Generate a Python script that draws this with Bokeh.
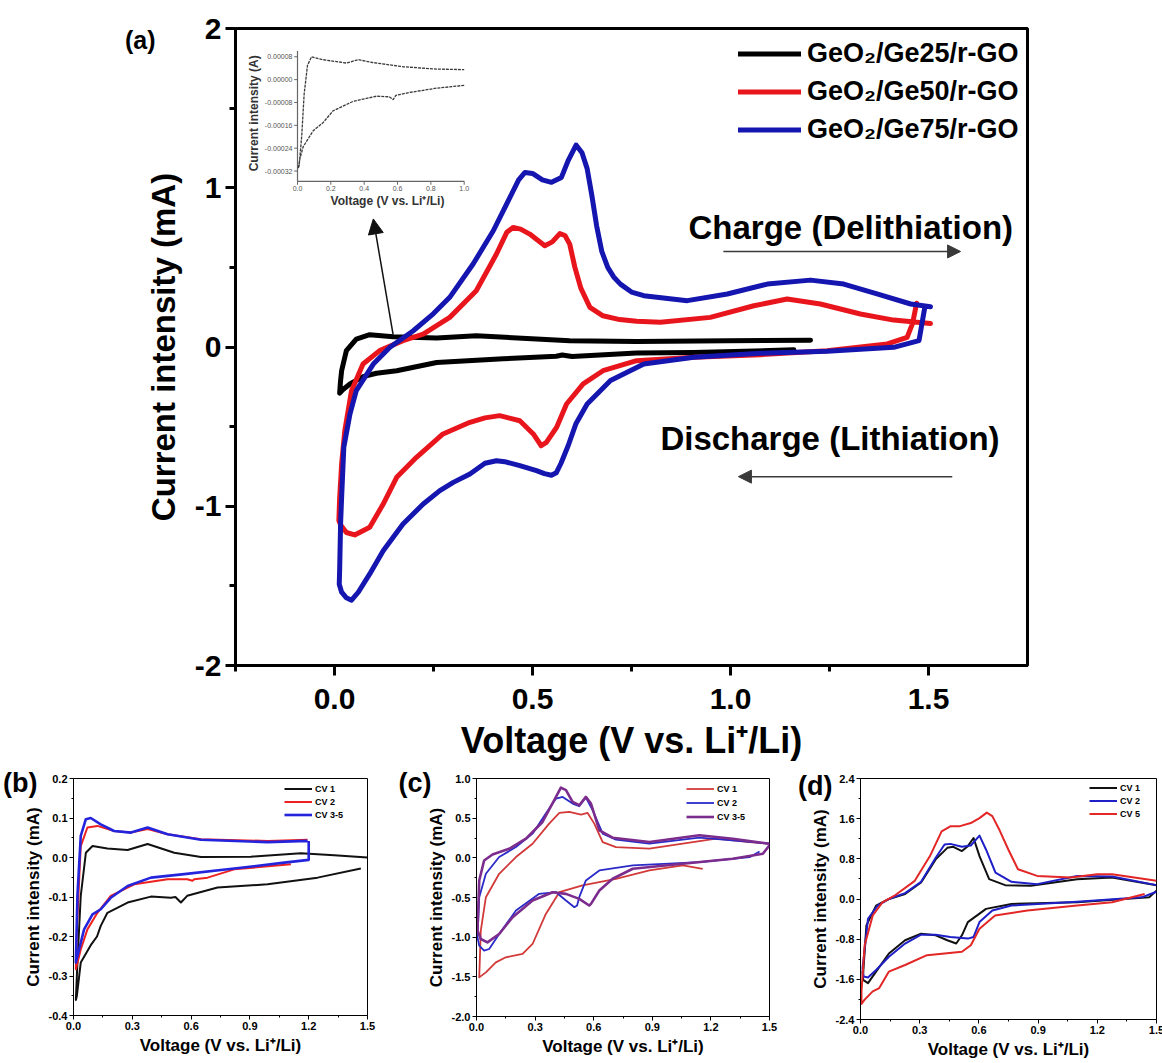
import numpy as np
from bokeh.plotting import figure
from bokeh.models import (Range1d, FixedTicker, PrintfTickFormatter, Legend, LegendItem,
                          Label, Arrow, NormalHead, LinearAxis)
from bokeh.layouts import column, row
from bokeh.embed import file_html
from bokeh.resources import INLINE
from bokeh.core.properties import value

FONT = "Liberation Sans"

# ------------------------------------------------------------------ data (a)
A_XTICKS = [0.0, 0.5, 1.0, 1.5]
A_XMINOR = [-0.25, 0.25, 0.75, 1.25]
A_YTICKS = [-2, -1, 0, 1, 2]
A_YMINOR = [-1.5, -0.5, 0.5, 1.5]
A_LABELS = ["GeO\u2082/Ge25/r-GO", "GeO\u2082/Ge50/r-GO", "GeO\u2082/Ge75/r-GO"]

ge25_lower = [(1.160, -0.018), (0.907, -0.034), (0.763, -0.038), (0.600, -0.060), (0.575, -0.050),
              (0.560, -0.058), (0.426, -0.074), (0.258, -0.097), (0.157, -0.149), (0.106, -0.165),
              (0.072, -0.186), (0.039, -0.232), (0.020, -0.270), (0.013, -0.290)]
ge25_upper = [(0.015, -0.220), (0.018, -0.149), (0.030, -0.023), (0.055, 0.050), (0.089, 0.077),
              (0.148, 0.065), (0.258, 0.056), (0.358, 0.071), (0.510, 0.050), (0.594, 0.040),
              (0.763, 0.035), (0.992, 0.040), (1.202, 0.042)]

ge50_lower = [(1.470, 0.275), (1.460, 0.150), (1.446, 0.061), (1.396, 0.019), (1.244, -0.023),
              (1.076, -0.048), (0.907, -0.065), (0.763, -0.086), (0.678, -0.149), (0.628, -0.232),
              (0.586, -0.358), (0.561, -0.504), (0.535, -0.599), (0.522, -0.620), (0.502, -0.546),
              (0.468, -0.463), (0.417, -0.431), (0.380, -0.445), (0.342, -0.473), (0.274, -0.546),
              (0.207, -0.693), (0.157, -0.818), (0.123, -0.986), (0.089, -1.132), (0.051, -1.180),
              (0.030, -1.165), (0.016, -1.120), (0.011, -1.090)]
ge50_upper = [(0.013, -0.950), (0.018, -0.735), (0.026, -0.526), (0.043, -0.274), (0.072, -0.107),
              (0.114, -0.023), (0.173, 0.040), (0.224, 0.081), (0.291, 0.186), (0.358, 0.353),
              (0.409, 0.584), (0.435, 0.720), (0.451, 0.751), (0.470, 0.740), (0.493, 0.709),
              (0.531, 0.636), (0.550, 0.660), (0.569, 0.712), (0.582, 0.700), (0.594, 0.646),
              (0.607, 0.500), (0.622, 0.370), (0.645, 0.249), (0.678, 0.196), (0.720, 0.172),
              (0.763, 0.161), (0.823, 0.155), (0.949, 0.186), (1.059, 0.259), (1.143, 0.301),
              (1.227, 0.270), (1.328, 0.207), (1.412, 0.169), (1.505, 0.148)]

ge75_lower = [(1.490, 0.240), (1.476, 0.040), (1.412, -0.002), (1.244, -0.027), (1.076, -0.040),
              (0.907, -0.065), (0.781, -0.107), (0.697, -0.211), (0.638, -0.358), (0.610, -0.480),
              (0.590, -0.620), (0.572, -0.730), (0.560, -0.790), (0.548, -0.805), (0.530, -0.795),
              (0.510, -0.776), (0.468, -0.745), (0.430, -0.720), (0.409, -0.714), (0.380, -0.730),
              (0.342, -0.797), (0.300, -0.850), (0.266, -0.902), (0.224, -0.986), (0.173, -1.111),
              (0.123, -1.279), (0.089, -1.425), (0.060, -1.540), (0.043, -1.590), (0.030, -1.575),
              (0.018, -1.540), (0.012, -1.490)]
ge75_upper = [(0.013, -1.400), (0.0155, -1.100), (0.018, -0.944), (0.0235, -0.630), (0.039, -0.421),
              (0.055, -0.274), (0.098, -0.107), (0.140, -0.002), (0.199, 0.102), (0.250, 0.210),
              (0.291, 0.312), (0.350, 0.521), (0.401, 0.730), (0.443, 0.939), (0.465, 1.050),
              (0.481, 1.096), (0.500, 1.090), (0.525, 1.050), (0.548, 1.034), (0.573, 1.065),
              (0.590, 1.170), (0.610, 1.268), (0.625, 1.220), (0.638, 1.120), (0.650, 0.950),
              (0.662, 0.760), (0.675, 0.600), (0.690, 0.500), (0.705, 0.440), (0.722, 0.395),
              (0.750, 0.345), (0.781, 0.322), (0.891, 0.291), (0.992, 0.333), (1.093, 0.395),
              (1.202, 0.420), (1.286, 0.395), (1.370, 0.333), (1.455, 0.270), (1.505, 0.253)]

# inset of (a): Ge25 in A
INSET_XTICKS = [0.0, 0.2, 0.4, 0.6, 0.8, 1.0]
INSET_XLABELS = ["0.0", "0.2", "0.4", "0.6", "0.8", "1.0"]
INSET_YTICKS = [-0.00032, -0.00024, -0.00016, -0.00008, 0.0, 0.00008]
INSET_YLABELS = ["-0.00032", "-0.00024", "-0.00016", "-0.00008", "0.00000", "0.00008"]
inset_lower = [(1.000, -0.000020), (0.834, -0.000030), (0.672, -0.000045), (0.590, -0.000055),
               (0.574, -0.000070), (0.550, -0.000060), (0.474, -0.000058), (0.334, -0.000076),
               (0.214, -0.000109), (0.154, -0.000150), (0.094, -0.000179), (0.034, -0.000235),
               (0.014, -0.000278), (0.005, -0.000310)]
inset_upper = [(0.010, -0.000300), (0.025, -0.000200), (0.040, -0.000050), (0.060, 0.000050),
               (0.084, 0.000080), (0.150, 0.000070), (0.294, 0.000058), (0.364, 0.000070),
               (0.450, 0.000060), (0.634, 0.000045), (0.834, 0.000037), (1.000, 0.000035)]

# ------------------------------------------------------------------ data (b)
B_XTICKS = [0.0, 0.3, 0.6, 0.9, 1.2, 1.5]
B_XMINOR = [0.15, 0.45, 0.75, 1.05, 1.35]
B_YTICKS = [-0.4, -0.3, -0.2, -0.1, 0.0, 0.1, 0.2]
B_YMINOR = [-0.35, -0.25, -0.15, -0.05, 0.05, 0.15]
B_LABELS = ["CV 1", "CV 2", "CV 3-5"]
b_cv1 = [(1.466, -0.028), (1.245, -0.051), (0.990, -0.068), (0.735, -0.076), (0.580, -0.097),
         (0.548, -0.114), (0.520, -0.100), (0.497, -0.102), (0.395, -0.099), (0.276, -0.114),
         (0.173, -0.140), (0.139, -0.173), (0.120, -0.200), (0.088, -0.222), (0.037, -0.266),
         (0.017, -0.351), (0.012, -0.361),
         (0.020, -0.266), (0.037, -0.097), (0.063, 0.012), (0.097, 0.029), (0.173, 0.023),
         (0.276, 0.019), (0.378, 0.034), (0.514, 0.012), (0.650, 0.001), (0.905, 0.002),
         (1.160, 0.011), (1.330, 0.006), (1.500, 0.000)]
b_cv2 = [(1.109, -0.017), (0.820, -0.030), (0.684, -0.051), (0.616, -0.055), (0.607, -0.059),
         (0.580, -0.055), (0.480, -0.055), (0.310, -0.068), (0.190, -0.097), (0.122, -0.140),
         (0.071, -0.182), (0.037, -0.233), (0.012, -0.283),
         (0.017, -0.182), (0.037, 0.029), (0.071, 0.076), (0.122, 0.080), (0.207, 0.067),
         (0.293, 0.063), (0.378, 0.072), (0.480, 0.059), (0.650, 0.046), (0.990, 0.042),
         (1.194, 0.045)]
b_cv35 = [(1.200, 0.042), (1.200, -0.006), (1.075, -0.013), (0.820, -0.028), (0.565, -0.042),
          (0.395, -0.051), (0.276, -0.072), (0.190, -0.102), (0.139, -0.131), (0.097, -0.144),
          (0.054, -0.182), (0.020, -0.250), (0.012, -0.266),
          (0.020, -0.097), (0.037, 0.055), (0.063, 0.097), (0.088, 0.100), (0.139, 0.084),
          (0.207, 0.067), (0.293, 0.063), (0.378, 0.076), (0.480, 0.059), (0.650, 0.045),
          (0.990, 0.039), (1.194, 0.042)]

# ------------------------------------------------------------------ data (c)
C_YTICKS = [-2.0, -1.5, -1.0, -0.5, 0.0, 0.5, 1.0]
C_YMINOR = [-1.75, -1.25, -0.75, -0.25, 0.25, 0.75]
C_LABELS = ["CV 1", "CV 2", "CV 3-5"]
c_cv1 = [(1.158, -0.138), (1.056, -0.096), (0.885, -0.159), (0.714, -0.264), (0.543, -0.348),
         (0.424, -0.433), (0.355, -0.707), (0.287, -1.086), (0.236, -1.212), (0.150, -1.254),
         (0.099, -1.318), (0.048, -1.444), (0.014, -1.507),
         (0.022, -0.917), (0.048, -0.496), (0.116, -0.201), (0.202, 0.010), (0.287, 0.178),
         (0.372, 0.431), (0.424, 0.566), (0.475, 0.579), (0.535, 0.545), (0.569, 0.566),
         (0.603, 0.431), (0.646, 0.199), (0.714, 0.136), (0.885, 0.115), (1.056, 0.178),
         (1.227, 0.241), (1.398, 0.199), (1.500, 0.178)]
c_cv2 = [(1.449, 0.080), (1.398, 0.008), (1.141, -0.054), (0.800, -0.096), (0.629, -0.159),
         (0.560, -0.285), (0.526, -0.496), (0.515, -0.600), (0.501, -0.622), (0.458, -0.538),
         (0.407, -0.433), (0.321, -0.454), (0.202, -0.665), (0.116, -0.960), (0.065, -1.149),
         (0.039, -1.170), (0.014, -1.107), (0.005, -1.000),
         (0.014, -0.496), (0.048, -0.201), (0.116, 0.010), (0.202, 0.136), (0.287, 0.305),
         (0.355, 0.558), (0.407, 0.747), (0.441, 0.768), (0.492, 0.684), (0.526, 0.650),
         (0.560, 0.760), (0.595, 0.600), (0.646, 0.305), (0.714, 0.229), (0.885, 0.178),
         (1.141, 0.254), (1.312, 0.220), (1.500, 0.178)]
c_cv35 = [(1.500, 0.157), (1.466, 0.051), (1.312, -0.012), (1.056, -0.075), (0.800, -0.138),
          (0.697, -0.264), (0.629, -0.412), (0.586, -0.580), (0.577, -0.601), (0.526, -0.517),
          (0.458, -0.454), (0.390, -0.433), (0.287, -0.538), (0.185, -0.749), (0.116, -0.960),
          (0.056, -1.065), (0.022, -1.023), (0.005, -0.917),
          (0.014, -0.285), (0.039, -0.033), (0.082, 0.042), (0.167, 0.114), (0.253, 0.241),
          (0.338, 0.452), (0.398, 0.726), (0.432, 0.886), (0.458, 0.853), (0.492, 0.705),
          (0.526, 0.663), (0.560, 0.768), (0.586, 0.684), (0.629, 0.347), (0.697, 0.254),
          (0.885, 0.199), (1.141, 0.284), (1.312, 0.241), (1.500, 0.178)]

# ------------------------------------------------------------------ data (d)
D_YTICKS = [-2.4, -1.6, -0.8, 0.0, 0.8, 1.6, 2.4]
D_YMINOR = [-2.0, -1.2, -0.4, 0.4, 1.2, 2.0]
D_LABELS = ["CV 1", "CV 2", "CV 5"]
d_cv1 = [(1.500, 0.165), (1.463, 0.033), (1.098, -0.066), (0.765, -0.099), (0.636, -0.197),
         (0.544, -0.460), (0.514, -0.723), (0.485, -0.887), (0.440, -0.822), (0.381, -0.723),
         (0.307, -0.690), (0.226, -0.822), (0.144, -1.085), (0.079, -1.446), (0.038, -1.676),
         (0.013, -1.610), (0.010, -1.446),
         (0.013, -1.512), (0.030, -0.526), (0.079, -0.131), (0.144, 0.000), (0.226, 0.099),
         (0.307, 0.329), (0.381, 0.789), (0.440, 1.019), (0.470, 1.039), (0.514, 0.954),
         (0.544, 1.052), (0.573, 1.216), (0.603, 0.855), (0.652, 0.395), (0.733, 0.276),
         (0.863, 0.263), (1.098, 0.395), (1.275, 0.428), (1.500, 0.276)]
d_cv2 = [(1.500, 0.145), (1.425, 0.033), (1.098, -0.053), (0.765, -0.131), (0.668, -0.230),
         (0.603, -0.460), (0.573, -0.756), (0.544, -0.789), (0.455, -0.756), (0.381, -0.710),
         (0.307, -0.710), (0.226, -0.887), (0.144, -1.150), (0.079, -1.413), (0.038, -1.564),
         (0.016, -1.545), (0.010, -1.380),
         (0.016, -1.183), (0.038, -0.394), (0.087, -0.131), (0.144, 0.000), (0.226, 0.118),
         (0.307, 0.342), (0.381, 0.822), (0.426, 1.085), (0.455, 1.098), (0.514, 1.039),
         (0.559, 1.065), (0.603, 1.263), (0.636, 0.986), (0.684, 0.526), (0.765, 0.342),
         (0.895, 0.296), (1.098, 0.460), (1.275, 0.447), (1.500, 0.276)]
d_cv5 = [(1.440, 0.099), (1.275, -0.066), (1.098, -0.131), (0.846, -0.230), (0.682, -0.329),
         (0.603, -0.592), (0.559, -0.920), (0.514, -1.052), (0.426, -1.085), (0.337, -1.118),
         (0.226, -1.315), (0.144, -1.446), (0.095, -1.775), (0.062, -1.840), (0.021, -2.005),
         (0.005, -2.090),
         (0.005, -1.840), (0.021, -0.920), (0.062, -0.329), (0.111, -0.066), (0.177, 0.079),
         (0.275, 0.362), (0.352, 0.855), (0.411, 1.348), (0.455, 1.447), (0.500, 1.447),
         (0.559, 1.512), (0.603, 1.611), (0.640, 1.720), (0.668, 1.650), (0.701, 1.400),
         (0.749, 0.986), (0.798, 0.592), (0.895, 0.460), (1.064, 0.428), (1.200, 0.493),
         (1.275, 0.493), (1.500, 0.362)]

XLABEL = "Voltage (V vs. Li\u207a/Li)"
YLABEL = "Current intensity (mA)"
PANEL_LETTERS = ["(a)", "(b)", "(c)", "(d)"]


def xy(*parts):
    pts = [p for part in parts for p in part]
    return [p[0] for p in pts], [p[1] for p in pts]


def make_fig(xr, yr, fw, fh, bl, bt, br, bb):
    f = figure(frame_width=fw, frame_height=fh, min_border_left=bl, min_border_top=bt,
               min_border_right=br, min_border_bottom=bb, x_range=Range1d(*xr),
               y_range=Range1d(*yr), output_backend="svg", toolbar_location=None)
    f.xgrid.visible = False
    f.ygrid.visible = False
    f.background_fill_color = "white"
    f.border_fill_color = "white"
    return f


def style(f, xt, xm, yt, ym, xfmt, yfmt, tick_size, xlab_size, ylab_size, tick_out, minor_out,
          lw, outline_w, xtick_stand, ytick_stand, xlab_stand, ylab_stand):
    for ax in (f.xaxis[0], f.yaxis[0]):
        ax.axis_line_width = lw
        ax.axis_line_color = "black"
        ax.major_tick_line_width = lw
        ax.minor_tick_line_width = lw
        ax.major_tick_line_color = "black"
        ax.minor_tick_line_color = "black"
        ax.major_tick_out = tick_out
        ax.major_tick_in = 0
        ax.minor_tick_out = minor_out
        ax.minor_tick_in = 0
        ax.major_label_text_font = FONT
        ax.major_label_text_font_style = "bold"
        ax.major_label_text_font_size = tick_size
        ax.major_label_text_color = "black"
        ax.axis_label_text_font = FONT
        ax.axis_label_text_font_style = "bold"
        ax.axis_label_text_color = "black"
    f.xaxis[0].major_label_standoff = xtick_stand
    f.yaxis[0].major_label_standoff = ytick_stand
    f.xaxis[0].axis_label_text_font_size = xlab_size
    f.yaxis[0].axis_label_text_font_size = ylab_size
    f.xaxis[0].axis_label_standoff = xlab_stand
    f.yaxis[0].axis_label_standoff = ylab_stand
    f.xaxis.ticker = FixedTicker(ticks=xt, minor_ticks=xm)
    f.yaxis.ticker = FixedTicker(ticks=yt, minor_ticks=ym)
    f.xaxis.formatter = PrintfTickFormatter(format=xfmt)
    f.yaxis.formatter = PrintfTickFormatter(format=yfmt)
    f.xaxis.axis_label = XLABEL
    f.yaxis.axis_label = YLABEL
    f.outline_line_color = "black"
    f.outline_line_width = outline_w
    f.outline_line_alpha = 1.0


def letter_axis(f, text, yval, size, standoff):
    # panel letter drawn as the single tick label of an outer, line-less left axis
    ax = LinearAxis(ticker=FixedTicker(ticks=[yval], minor_ticks=[]),
                    formatter=PrintfTickFormatter(format=text),
                    axis_line_color=None, major_tick_line_color=None,
                    minor_tick_line_color=None, major_tick_out=0, major_tick_in=0,
                    minor_tick_out=0, minor_tick_in=0, major_label_standoff=standoff,
                    major_label_text_font=FONT, major_label_text_font_style="bold",
                    major_label_text_font_size=size, major_label_text_color="black")
    f.add_layout(ax, "left")


def small_legend(f, renderers, labels, loc, spacing):
    leg = Legend(items=[LegendItem(label=l, renderers=[r]) for l, r in zip(labels, renderers)],
                 location=loc, glyph_width=28, glyph_height=13, label_height=13,
                 label_standoff=3, spacing=spacing, padding=1, margin=0,
                 border_line_color=None, background_fill_alpha=0,
                 label_text_font=FONT, label_text_font_style="bold",
                 label_text_font_size="9px", label_text_color="black")
    f.add_layout(leg)


# ------------------------------------------------------------------ panel (a)
pa = make_fig((-0.25, 1.75), (-2, 2), 792, 637, 235, 28, 30, 100)
style(pa, A_XTICKS, A_XMINOR, A_YTICKS, A_YMINOR, "%.1f", "%d", "30px", "36px", "33px",
      10, 6, 3, 3, 13, 4, 8, 10)
pa.extra_x_ranges = {"inx": Range1d(-0.3719, 4.379)}
pa.extra_y_ranges = {"iny": Range1d(-0.002051, 0.000179)}

main_colors = ["#000000", "#e8161c", "#1515b0"]
rends = []
for (lo, up), col in zip([(ge25_lower, ge25_upper), (ge50_lower, ge50_upper),
                          (ge75_lower, ge75_upper)], main_colors):
    vx, vy = xy(lo, up)
    rends.append(pa.line(vx, vy, line_color=col, line_width=5, line_join="round",
                         line_cap="round"))

leg = Legend(items=[LegendItem(label=l, renderers=[r]) for l, r in zip(A_LABELS, rends)],
             location=(503, 520), glyph_width=63, glyph_height=31, label_height=31,
             label_standoff=6, spacing=7, padding=0, margin=0, border_line_color=None,
             background_fill_alpha=0, label_text_font=FONT, label_text_font_style="bold",
             label_text_font_size="27px", label_text_color="black")
pa.add_layout(leg)

# inset drawn on the inset ranges
IN_YBOT, IN_YTOP = -0.000356, 0.0001
pa.segment(x0=[0, 0], y0=[IN_YBOT, IN_YBOT], x1=[0, 1.0], y1=[IN_YTOP, IN_YBOT],
           x_range_name="inx", y_range_name="iny", line_color="#666666", line_width=1.2)
pa.segment(x0=[-0.02] * len(INSET_YTICKS), y0=INSET_YTICKS, x1=[0] * len(INSET_YTICKS),
           y1=INSET_YTICKS, x_range_name="inx", y_range_name="iny",
           line_color="#666666", line_width=1)
pa.segment(x0=INSET_XTICKS, y0=[IN_YBOT] * len(INSET_XTICKS), x1=INSET_XTICKS,
           y1=[IN_YBOT - 0.000012] * len(INSET_XTICKS), x_range_name="inx",
           y_range_name="iny", line_color="#666666", line_width=1)
pa.text(x=[-0.03] * len(INSET_YTICKS), y=INSET_YTICKS, text=INSET_YLABELS,
        x_range_name="inx", y_range_name="iny", text_font=value(FONT), text_font_size="7px",
        text_color="#555555", text_align="right", text_baseline="middle")
pa.text(x=INSET_XTICKS, y=[IN_YBOT - 0.000018] * len(INSET_XTICKS), text=INSET_XLABELS,
        x_range_name="inx", y_range_name="iny", text_font=value(FONT), text_font_size="7px",
        text_color="#555555", text_align="center", text_baseline="top")
pa.text(x=[-0.258], y=[-0.000118], text=["Current intensity (A)"], angle=np.pi / 2,
        x_range_name="inx", y_range_name="iny", text_font=value(FONT), text_font_size="12px",
        text_font_style="bold", text_color="#333333", text_align="center",
        text_baseline="middle")
pa.text(x=[0.54], y=[-0.000424], text=[XLABEL],
        x_range_name="inx", y_range_name="iny", text_font=value(FONT), text_font_size="12px",
        text_font_style="bold", text_color="#333333", text_align="center",
        text_baseline="middle")
ivx, ivy = xy(inset_lower, inset_upper)
pa.line(ivx, ivy, x_range_name="inx", y_range_name="iny", line_color="#3a3a3a",
        line_width=1.3, line_dash="3 1")

# annotations
pa.add_layout(Label(x=0.894, y=0.751, text="Charge (Delithiation)", text_font=FONT,
                    text_font_style="bold", text_font_size="33px", text_baseline="middle",
                    text_align="left", text_color="black"))
pa.add_layout(Label(x=0.823, y=-0.576, text="Discharge (Lithiation)", text_font=FONT,
                    text_font_style="bold", text_font_size="33px", text_baseline="middle",
                    text_align="left", text_color="black"))
pa.add_layout(Arrow(end=NormalHead(size=13, fill_color="#3a3a3a", line_color="#3a3a3a"),
                    x_start=0.982, y_start=0.60, x_end=1.581, y_end=0.60,
                    line_color="#3a3a3a", line_width=1.5))
pa.add_layout(Arrow(end=NormalHead(size=13, fill_color="#3a3a3a", line_color="#3a3a3a"),
                    x_start=1.56, y_start=-0.814, x_end=1.02, y_end=-0.814,
                    line_color="#3a3a3a", line_width=1.5))
pa.add_layout(Arrow(end=NormalHead(size=15, fill_color="#111111", line_color="#111111"),
                    x_start=0.148, y_start=0.077, x_end=0.098, y_end=0.804,
                    line_color="#111111", line_width=1.5))
letter_axis(pa, PANEL_LETTERS[0], 1.93, "25px", -14)

# ------------------------------------------------------------------ panel (b)
pb = make_fig((0, 1.5), (-0.4, 0.2), 294, 237, 73, 11, 28, 43)
style(pb, B_XTICKS, B_XMINOR, B_YTICKS, B_YMINOR, "%.1f", "%.1f", "11px", "17px", "17px",
      4, 2, 1, 1, 2, 2, 3, 3)
rb = []
for data, col, w in [(b_cv1, "#111111", 2.0), (b_cv2, "#ee2020", 2.0), (b_cv35, "#2424dd", 2.6)]:
    vx, vy = xy(data)
    rb.append(pb.line(vx, vy, line_color=col, line_width=w, line_join="round"))
small_legend(pb, rb, B_LABELS, (211, 194), 0)
letter_axis(pb, PANEL_LETTERS[1], 0.2, "27px", -17)

# ------------------------------------------------------------------ panel (c)
pc = make_fig((0, 1.5), (-2.0, 1.0), 293, 238, 72, 10, 25, 43)
style(pc, B_XTICKS, B_XMINOR, C_YTICKS, C_YMINOR, "%.1f", "%.1f", "11px", "17px", "17px",
      4, 2, 1, 1, 2, 2, 3, 3)
rc = []
for data, col, w in [(c_cv1, "#d23a3a", 1.8), (c_cv2, "#2a2ac8", 1.8), (c_cv35, "#7b2c8c", 2.6)]:
    vx, vy = xy(data)
    rc.append(pc.line(vx, vy, line_color=col, line_width=w, line_join="round"))
small_legend(pc, rc, C_LABELS, (210, 193), 1)
letter_axis(pc, PANEL_LETTERS[2], 1.0, "27px", -8)

# ------------------------------------------------------------------ panel (d)
pd = make_fig((0, 1.5), (-2.4, 2.4), 296, 241, 66, 13, 15, 43)
style(pd, B_XTICKS, B_XMINOR, D_YTICKS, D_YMINOR, "%.1f", "%.1f", "11px", "17px", "17px",
      4, 2, 1, 1, 2, 2, 3, 3)
rd = []
for data, col, w in [(d_cv1, "#111111", 2.0), (d_cv2, "#1f1fc8", 2.0), (d_cv5, "#e32626", 2.0)]:
    vx, vy = xy(data)
    rd.append(pd.line(vx, vy, line_color=col, line_width=w, line_join="round"))
small_legend(pd, rd, D_LABELS, (229, 199), 0)
letter_axis(pd, PANEL_LETTERS[3], 2.26, "27px", -25)

layout = column(pa, row(pb, pc, pd))
open("out.html", "w").write(file_html(layout, INLINE))
